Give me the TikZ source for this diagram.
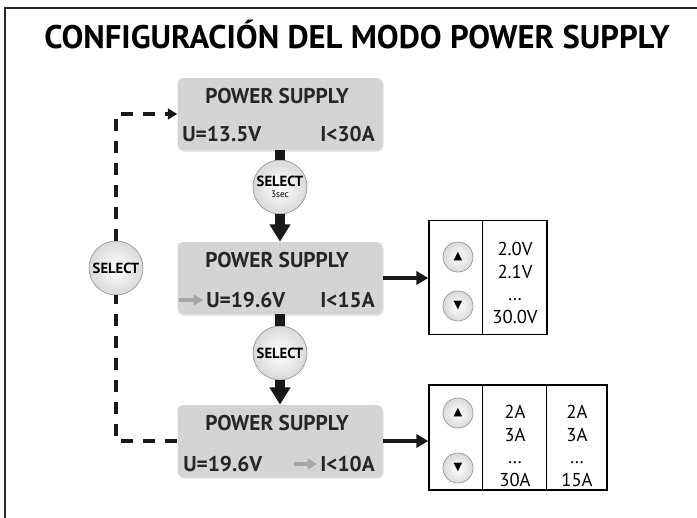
\documentclass[tikz,border=0pt]{standalone}
\usepackage{fontspec}
\setmainfont{PT Sans}
\newfontfamily\symfont{DejaVu Sans}
\usepackage{xcolor}
\usepackage{tikz}
\usetikzlibrary{calc}
\usetikzlibrary{positioning}
\usetikzlibrary{arrows.meta}
\usetikzlibrary{shadows}
\definecolor{boxgray}{RGB}{211,212,213}
\definecolor{rimgray}{RGB}{150,150,150}
\tikzset{
	frame/.style={line width=2.2pt, black!85},
	title/.style={font=\fontsize{24.5}{28}\selectfont\bfseries, inner sep=0pt},
	psbox/.style={
		rounded corners=4pt, fill=boxgray,
		minimum width=153.75pt, minimum height=54pt,
		drop shadow={opacity=0.25, shadow xshift=0.8pt, shadow yshift=-1.2pt},
	},
	psname/.style={font=\fontsize{16}{18}\selectfont\bfseries, text=black!85, inner sep=0pt},
	psval/.style={font=\fontsize{16}{18}\selectfont\bfseries, text=black!85, inner sep=0pt},
	selbtn/.style={
		circle, draw=rimgray, line width=0.5pt,
		shading=radial, inner color=white, outer color=gray!30,
		minimum size=40.5pt, inner sep=0pt, align=center,
		font=\fontsize{11}{11}\selectfont\bfseries,
	},
	stem/.style={line width=7pt, black!90},
	dashline/.style={line width=2.6pt, black!90, dash pattern=on 9pt off 7.5pt},
	linkarrow/.style={line width=2.6pt, black!90, -{Triangle[width=10pt,length=9pt]}},
	grayarrow/.style={line width=2.4pt, gray!70, -{Triangle[width=8pt,length=7pt]}},
	tab/.style={draw, line width=1.1pt, fill=white, inner sep=0pt},
	tabline/.style={line width=0.8pt},
	arrbtn/.style={
		circle, draw=rimgray, line width=0.5pt,
		shading=radial, inner color=white, outer color=gray!30,
		minimum size=22.5pt, inner sep=0pt,
		font=\symfont\fontsize{8.5}{8.5}\selectfont,
	},
	tabtxt/.style={font=\fontsize{14}{17}\selectfont, align=center, inner sep=0pt},
}
\begin{document}
\begin{tikzpicture}[x=0.75pt,y=-0.75pt]
	\useasboundingbox (0,0) rectangle (697,518);
	% Frame and title
	\draw[frame] (697,8) -- (5,8) -- (5,518);
	\node[title] (title) at (357,35) {CONFIGURACIÓN DEL MODO POWER SUPPLY};

	% Displays
	\node[psbox] (ps1) at (280,114) {};
	\node[psbox] (ps2) at (280,278) {};
	\node[psbox] (ps3) at (280,441) {};

	\node[psname] (ps1-name) at (277,96) {POWER SUPPLY};
	\node[psval, anchor=west] (ps1-u) at (182,134) {U=13.5V};
	\node[psval, anchor=east] (ps1-i) at (375,134) {I<30A};

	\node[psname] (ps2-name) at (277,260) {POWER SUPPLY};
	\node[psval, anchor=west] (ps2-u) at (206,300) {U=19.6V};
	\node[psval, anchor=east] (ps2-i) at (375,300) {I<15A};

	\node[psname] (ps3-name) at (277,423) {POWER SUPPLY};
	\node[psval, anchor=west] (ps3-u) at (183,464) {U=19.6V};
	\node[psval, anchor=east] (ps3-i) at (375,464) {I<10A};

	% Cursor marks
	\draw[grayarrow] ($(ps2-u.west)+(-27,0)$) -- ($(ps2-u.west)+(-3,0)$);
	\draw[grayarrow] ($(ps3-i.west)+(-26,0)$) -- ($(ps3-i.west)+(-3,0)$);

	% Select buttons
	\node[selbtn] (sel1) at (280,187) {SELECT\\[-3pt]{\fontsize{7}{7}\selectfont\mdseries 3sec}};
	\node[selbtn] (sel2) at (280,353) {SELECT};
	\node[selbtn] (sel0) at (116,268) {SELECT};

	% Main flow
	\draw[stem] (ps1.south) -- (sel1.north);
	\draw[stem, -{Triangle[width=15pt,length=13pt]}] (sel1.south) -- (ps2.north);
	\draw[stem] (ps2.south) -- (sel2.north);
	\draw[stem, -{Triangle[width=15pt,length=13pt]}] (sel2.south) -- (ps3.north);

	% Way back
	\draw[dashline] (ps3.west) -- (ps3.west -| sel0) -- (sel0.south);
	\draw[dashline, -{Triangle[width=8pt,length=7pt]}] (sel0.north) -- (ps1.west -| sel0) -- (ps1.west);

	% Voltage table
	\node[tab, minimum width=88.5pt, minimum height=85.5pt] (tabV) at (488,277.5) {};
	\draw[tabline] ($(tabV.north west)+(54,0)$) -- ($(tabV.south west)+(54,0)$);
	\node[arrbtn] (upV) at (458,257) {▲};
	\node[arrbtn] (downV) at (458,306) {▼};
	\node[tabtxt] (colV) at (515,283) {2.0V\\2.1V\\…\\30.0V};

	% Current table
	\node[tab, minimum width=133.5pt, minimum height=78.75pt] (tabA) at (518,437.5) {};
	\draw[tabline] ($(tabA.north west)+(54,0)$) -- ($(tabA.south west)+(54,0)$);
	\draw[tabline] ($(tabA.north west)+(118,0)$) -- ($(tabA.south west)+(118,0)$);
	\node[arrbtn] (upA) at (458,413) {▲};
	\node[arrbtn] (downA) at (458,468) {▼};
	\node[tabtxt] (colA1) at (515,446) {2A\\3A\\…\\30A};
	\node[tabtxt] (colA2) at (577,446) {2A\\3A\\…\\15A};

	% Links to tables
	\draw[linkarrow] (ps2.east) -- (ps2.east -| tabV.west);
	\draw[linkarrow] (ps3.east) -- (ps3.east -| tabA.west);
\end{tikzpicture}
\end{document}
